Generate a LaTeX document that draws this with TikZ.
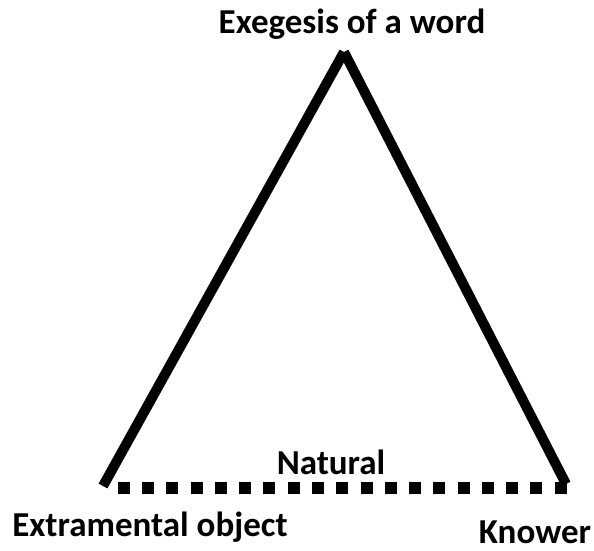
\documentclass[tikz,border=0pt]{standalone}
\usepackage{fontspec}
\setmainfont{Carlito}
\begin{document}
\begin{tikzpicture}[x=1pt,y=-1pt,
  lbl/.style={font=\bfseries\fontsize{35}{40}\selectfont, inner sep=0pt},
  side/.style={line width=10pt, line cap=butt},
  base/.style={line width=12pt, dash pattern=on 12pt off 12.28pt}]
\useasboundingbox (0,0) rectangle (594,550);
\coordinate (apex) at (344,52);
\coordinate (bl) at (103,486);
\coordinate (br) at (566,484);
\coordinate (dl) at (117.7,488);
\coordinate (dr) at (567,488);
\draw[side] (bl) -- (apex);
\draw[side] (apex) -- (br);
\draw[base] (dl) -- (dr);
\node[lbl] (top) at (352,24) {Exegesis of a word};
\node[lbl] (nat) at (331,462) {Natural};
\node[lbl] (ext) at (150,527) {Extramental object};
\node[lbl] (kn) at (535,532) {Knower};
\end{tikzpicture}
\end{document}
